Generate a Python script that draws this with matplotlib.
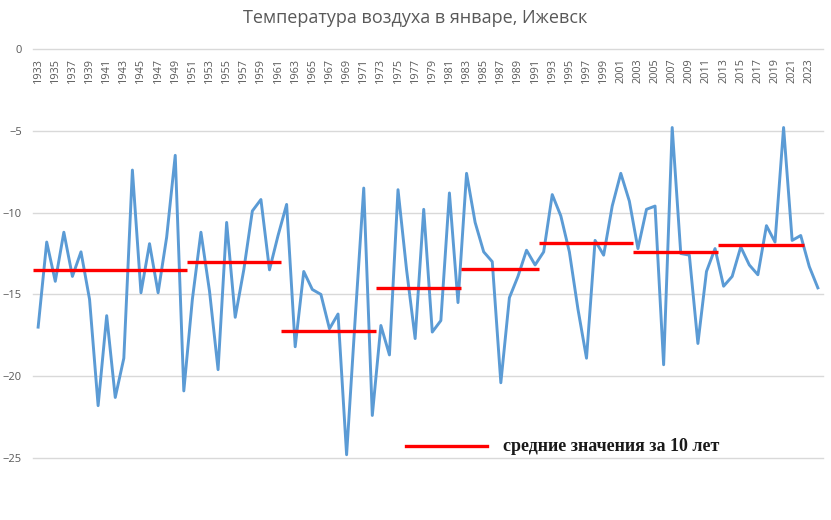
import matplotlib.pyplot as plt

years = list(range(1933, 2025))
temps = [
    -17.0, -11.8, -14.2, -11.2, -13.9, -12.4, -15.3, -21.8, -16.3, -21.3,  # 1933-1942
    -18.9, -7.4, -14.9, -11.9, -14.9, -11.5, -6.5, -20.9, -15.3, -11.2,    # 1943-1952
    -14.8, -19.6, -10.6, -16.4, -13.5, -9.9, -9.2, -13.5, -11.4, -9.5,     # 1953-1962
    -18.2, -13.6, -14.7, -15.0, -17.1, -16.2, -24.8, -16.5, -8.5, -22.4,   # 1963-1972
    -16.9, -18.7, -8.6, -13.5, -17.7, -9.8, -17.3, -16.6, -8.8, -15.5,     # 1973-1982
    -7.6, -10.6, -12.4, -13.0, -20.4, -15.2, -13.9, -12.3, -13.2, -12.4,   # 1983-1992
    -8.9, -10.2, -12.4, -15.9, -18.9, -11.7, -12.6, -9.6, -7.6, -9.3,      # 1993-2002
    -12.2, -9.8, -9.6, -19.3, -4.8, -12.5, -12.6, -18.0, -13.6, -12.2,     # 2003-2012
    -14.5, -13.9, -12.1, -13.2, -13.8, -10.8, -11.8, -4.8, -11.7, -11.4,   # 2013-2022
    -13.3, -14.6,                                                           # 2023-2024
]

# средние значения по периодам
period_start = [1933, 1951, 1962, 1973, 1983, 1992, 2003, 2013]
period_end = [1950, 1961, 1972, 1982, 1991, 2002, 2012, 2022]
period_mean = [-13.5, -13.0, -17.25, -14.6, -13.45, -11.85, -12.4, -12.0]

plt.rcParams['font.family'] = ['Open Sans', 'DejaVu Sans']
gray = '#595959'

fig = plt.figure(figsize=(8.31, 5.20), dpi=100)
ax = fig.add_axes([33 / 831, 1 - 458 / 520, 790 / 831, 409 / 520])

ax.plot(years, temps, color='#5b9bd5', linewidth=2.1, zorder=3)
for s, e, m in zip(period_start, period_end, period_mean):
    ax.hlines(m, s - 0.6, e + 0.4, color='#ff0000', linewidth=2.4, zorder=4)

ax.set_xlim(1932.4, 2024.6)
ax.set_ylim(-25, 0)
ax.set_yticks([0, -5, -10, -15, -20, -25])
ax.set_xticks(list(range(1933, 2024, 2)))
ax.xaxis.tick_top()
# подписи годов под линией нуля
ax.tick_params(axis='x', length=0, pad=-6.5, labelsize=7.8, labelcolor=gray, rotation=90)
ax.tick_params(axis='y', length=0, pad=8, labelsize=8, labelcolor=gray)
for lab in ax.get_xticklabels():
    lab.set_verticalalignment('top')

ax.grid(axis='y', color='#d9d9d9', linewidth=1)
ax.set_axisbelow(True)
for gl in ax.get_ygridlines():
    gl.set_clip_on(False)
for sp in ax.spines.values():
    sp.set_visible(False)

fig.text(0.5, 1 - 18 / 520, 'Температура воздуха в январе, Ижевск',
         ha='center', va='center', fontsize=13, color=gray)

# легенда
ax.plot([1975.9, 1985.4], [-24.27, -24.27], color='#ff0000', linewidth=2.4,
        clip_on=False)
ax.text(1987.2, -24.3, 'средние значения за 10 лет', fontsize=13,
        fontweight='bold', family=['Liberation Serif'], color='#1a1a1a',
        va='center', ha='left')

plt.savefig('out.png', dpi=100)
